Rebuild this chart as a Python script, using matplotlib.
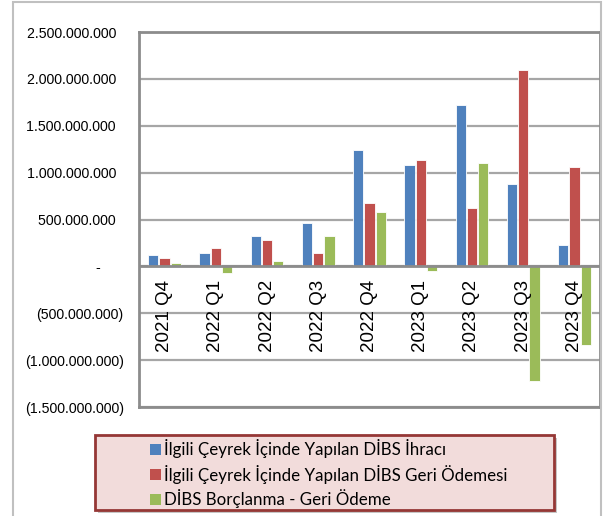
import matplotlib
matplotlib.use("Agg")
import matplotlib.pyplot as plt
import numpy as np
from matplotlib.patches import Rectangle

categories = ["2021 Q4", "2022 Q1", "2022 Q2", "2022 Q3", "2022 Q4",
              "2023 Q1", "2023 Q2", "2023 Q3", "2023 Q4"]
ihrac = [125e6, 140e6, 320e6, 458e6, 1243e6, 1080e6, 1720e6, 884e6, 230e6]
geri_odeme = [90e6, 195e6, 277e6, 145e6, 678e6, 1130e6, 628e6, 2100e6, 1065e6]
net = [40e6, -70e6, 53e6, 327e6, 578e6, -50e6, 1100e6, -1220e6, -840e6]
series_names = ["İlgili Çeyrek İçinde Yapılan DİBS İhracı",
                "İlgili Çeyrek İçinde Yapılan DİBS Geri Ödemesi",
                "DİBS Borçlanma - Geri Ödeme"]
colors = ["#4f81bd", "#c0504d", "#9bbb59"]
yticks = [-1.5e9, -1.0e9, -0.5e9, 0, 0.5e9, 1.0e9, 1.5e9, 2.0e9, 2.5e9]

W, H = 610, 516
fig = plt.figure(figsize=(W / 100, H / 100), dpi=100)

def fx(px):
    return px / W

def fy(py):
    return 1 - py / H

# outer chart border
fig.patches.append(Rectangle((fx(13), fy(520)), fx(601) - fx(13), fy(2) - fy(520),
                             transform=fig.transFigure, fill=False,
                             edgecolor="#c0c0c0", linewidth=1.5, zorder=0))

ax = fig.add_axes([fx(139), fy(407), fx(600) - fx(139), fy(32) - fy(407)])
x = np.arange(len(categories))
step = 0.22
bw = 0.2
for k, vals in enumerate([ihrac, geri_odeme, net]):
    ax.bar(x + (k - 1) * step, vals, width=bw, color=colors[k],
           edgecolor="white", linewidth=0.6, zorder=3, label=series_names[k])

ax.set_xlim(-0.5, len(categories) - 0.5)
ax.set_ylim(-1.5e9, 2.5e9)
ax.set_yticks(yticks)

def fmt(v):
    if v == 0:
        return "-      "
    s = f"{abs(v):,.0f}".replace(",", ".")
    return f"({s})" if v < 0 else s + "  "

ax.set_yticklabels([fmt(v) for v in yticks], fontsize=10.2, family="Liberation Sans")
ax.tick_params(axis="y", length=0, pad=11)
ax.set_xticks([])
ax.grid(axis="y", color="#a6a6a6", linewidth=1.6, zorder=1)
ax.axhline(0, color="#8c8c8c", linewidth=2, zorder=4)
for s in ax.spines.values():
    s.set_color("#8c8c8c")
    s.set_linewidth(2)

for i, c in enumerate(categories):
    ax.text(i, -0.14e9, c, rotation=90, ha="center", va="top",
            fontsize=13.5, family="Liberation Sans", zorder=5)

# legend box with shadow
lx0, lx1, ly0, ly1 = 95, 554, 435, 510
fig.patches.append(Rectangle((fx(lx0 + 3), fy(ly1 + 3)), fx(lx1) - fx(lx0), fy(ly0) - fy(ly1),
                             transform=fig.transFigure, facecolor="#a0a0a0",
                             edgecolor="none", zorder=1, alpha=0.6))
fig.patches.append(Rectangle((fx(lx0), fy(ly1)), fx(lx1) - fx(lx0), fy(ly0) - fy(ly1),
                             transform=fig.transFigure, facecolor="#f2dcdb",
                             edgecolor="#953735", linewidth=2, zorder=2))
rows = [449, 474, 499]
for k in range(3):
    fig.patches.append(Rectangle((fx(150), fy(rows[k] + 5.5)), fx(11), fy(0) - fy(11),
                                 transform=fig.transFigure, facecolor=colors[k],
                                 edgecolor="none", zorder=3))
    fig.text(fx(164), fy(rows[k]), series_names[k], ha="left", va="center",
             fontsize=12.2, family="Lato", zorder=4)

fig.savefig("out.png", dpi=100)
